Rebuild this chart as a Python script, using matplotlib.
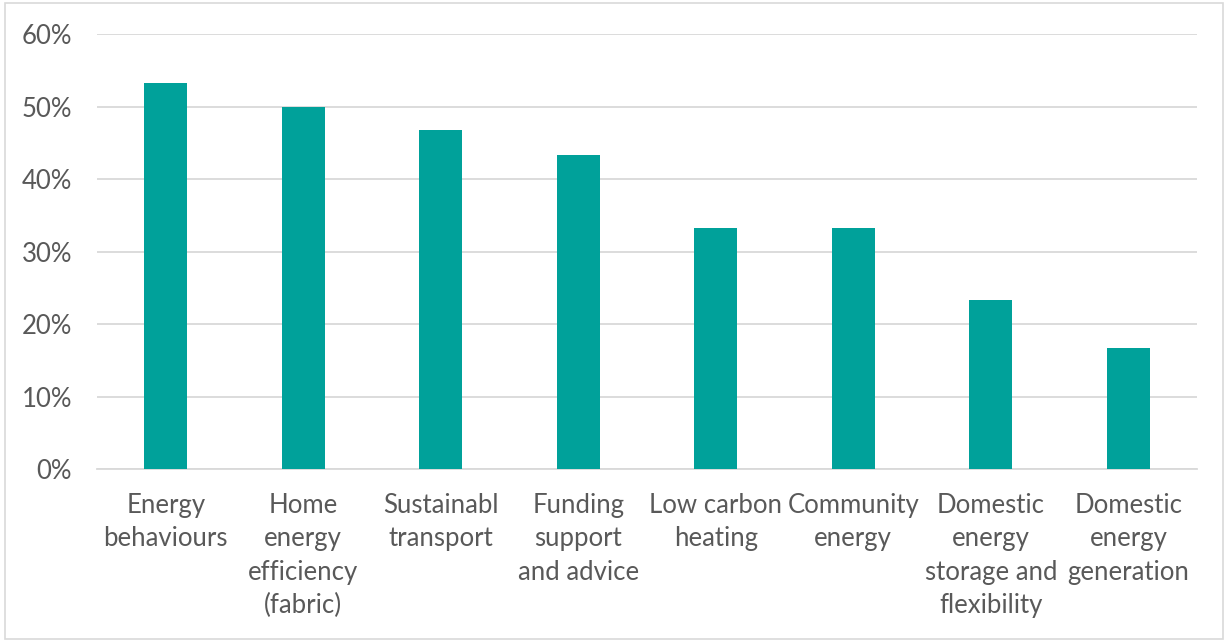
import matplotlib.pyplot as plt
from matplotlib.patches import Rectangle
from matplotlib.ticker import PercentFormatter

plt.rcParams['font.family'] = ['Lato', 'DejaVu Sans']

categories = [
    "Energy\nbehaviours",
    "Home\nenergy\nefficiency\n(fabric)",
    "Sustainabl\ntransport",
    "Funding\nsupport\nand advice",
    "Low carbon\nheating",
    "Community\nenergy",
    "Domestic\nenergy\nstorage and\nflexibility",
    "Domestic\nenergy\ngeneration",
]
shares = [53.3, 50.0, 46.7, 43.3, 33.3, 33.3, 23.3, 16.7]
y_ticks = [0, 10, 20, 30, 40, 50, 60]

text_color = '#595959'
grid_color = '#D9D9D9'

fig = plt.figure(figsize=(12.25, 6.41), dpi=100)
ax = fig.add_axes([0.0792, 0.268, 0.8980, 0.679])

x = range(len(categories))
ax.bar(x, shares, width=0.31, color='#00A19A', zorder=3)

ax.set_ylim(0, 60)
ax.set_xlim(-0.5, len(categories) - 0.5)
ax.set_yticks(y_ticks)
ax.yaxis.set_major_formatter(PercentFormatter(decimals=0))
ax.grid(axis='y', color=grid_color, linewidth=1.3, zorder=0)
ax.set_xticks(list(x))
ax.set_xticklabels(categories, linespacing=1.42, va='top')

for s in ['top', 'right', 'left']:
    ax.spines[s].set_visible(False)
ax.spines['bottom'].set_color(grid_color)
ax.spines['bottom'].set_linewidth(1.3)

ax.tick_params(axis='both', length=0, colors=text_color, labelsize=18.5)
ax.tick_params(axis='x', pad=17)
ax.tick_params(axis='y', pad=18)

# light frame around the chart
fig.patches.append(Rectangle((0.004, 0.003), 0.994, 0.992, transform=fig.transFigure,
                             fill=False, edgecolor='#D9D9D9', linewidth=1.2))

fig.savefig('out.png', dpi=100)
